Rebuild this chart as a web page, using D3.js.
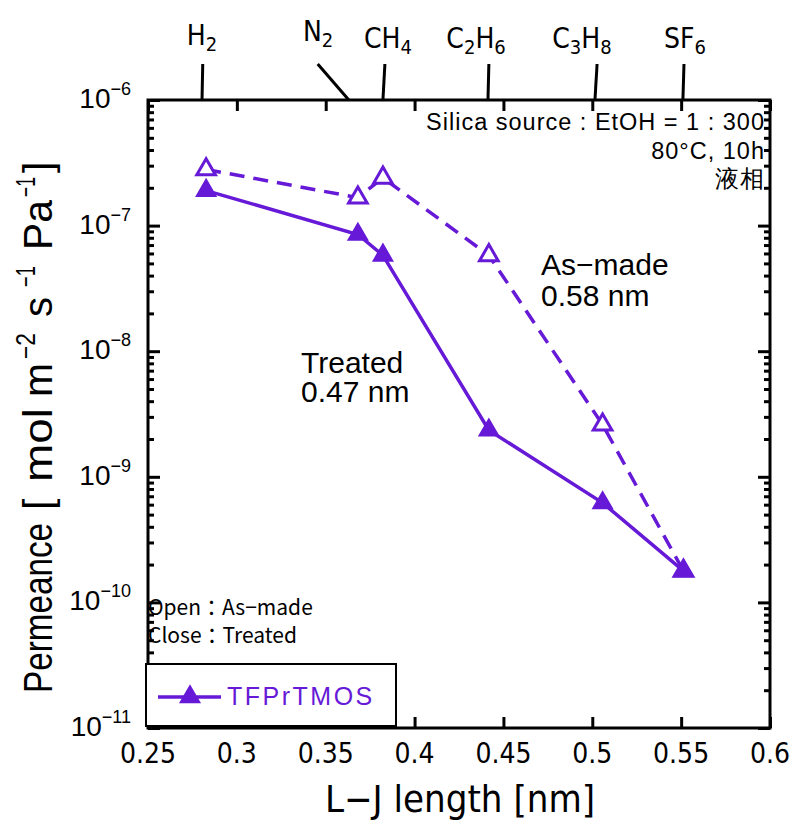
<!DOCTYPE html>
<html>
<head>
<meta charset="utf-8">
<title>Permeance vs L-J length</title>
<script src="https://d3js.org/d3.v7.min.js"></script>
<style>
  body { margin: 0; background: #fff; }
  svg text { fill: #000; }
  .narrow { font-family: "Liberation Sans Narrow", "DejaVu Sans Condensed", sans-serif; }
  .arial { font-family: "Liberation Sans", Arial, sans-serif; }
  .jp { font-family: "Noto Sans CJK JP", sans-serif; }
</style>
</head>
<body>
<div id="chart"></div>
<script>
// gases and their L-J length [nm]
var gases = ["H2", "N2", "CH4", "C2H6", "C3H8", "SF6"];
var ljLength = [0.2827, 0.3681, 0.3822, 0.4418, 0.5058, 0.5513];

// permeance [mol m-2 s-1 Pa-1]
var asMade  = [2.8e-7, 1.67e-7, 2.4e-7, 5.8e-8, 2.6e-9, 1.78e-10];
var treated = [1.9e-7, 8.5e-8, 5.8e-8, 2.35e-9, 6.2e-10, 1.78e-10];

// gas labels on the top axis (text, subscript, text, subscript)
var gasParts = [["H","2"], ["N","2"], ["CH","4"], ["C","2","H","6"], ["C","3","H","8"], ["SF","6"]];
var gasTickAt  = [0.2804, 0.363, 0.3822, 0.4413, 0.5015, 0.551];
var gasLineTop = [0.2808, 0.3455, 0.3833, 0.4418, 0.5027, 0.5516];
var gasLabelAt = [0.2804, 0.3457, 0.385, 0.4346, 0.4942, 0.5522];

var xTicks = [0.25, 0.3, 0.35, 0.4, 0.45, 0.5, 0.55, 0.6];
var yDecades = [1e-11, 1e-10, 1e-9, 1e-8, 1e-7, 1e-6];

var w = 792, h = 820;
var mLeft = 148, mRight = 770, mTop = 100, mBottom = 728;
var purple = "#6619d6";

var svg = d3.select("#chart").append("svg")
  .attr("width", w).attr("height", h);

var x = d3.scaleLinear().domain([0.25, 0.6]).range([mLeft, mRight]);
var y = d3.scaleLog().domain([1e-11, 1e-6]).range([mBottom, mTop]);

function plain(g){
  g.select(".domain").remove();
  g.selectAll("line").attr("stroke", "#000").attr("stroke-width", 3);
}

//bottom + top axis ticks (inside)
svg.append("g").attr("transform", "translate(0," + mBottom + ")")
  .call(d3.axisBottom(x).tickValues(xTicks).tickSize(-11).tickFormat(""))
  .call(plain);
svg.append("g").attr("transform", "translate(0," + mTop + ")")
  .call(d3.axisTop(x).tickValues(xTicks).tickSize(-11).tickFormat(""))
  .call(plain);

// x tick labels
svg.selectAll(".xlab").data(xTicks).enter().append("text")
  .attr("class", "narrow")
  .attr("x", function(d){ return x(d); })
  .attr("y", 763)
  .attr("text-anchor", "middle")
  .style("font-size", "28px")
  .text(function(d){ return d; });

// y ticks, major and minor, left and right
var minor = y.ticks().filter(function(d){ return yDecades.indexOf(d) < 0; });
[["axisLeft", mLeft], ["axisRight", mRight]].forEach(function(a){
  svg.append("g").attr("transform", "translate(" + a[1] + ",0)")
    .call(d3[a[0]](y).tickValues(yDecades).tickSize(-12).tickFormat(""))
    .call(plain);
  svg.append("g").attr("transform", "translate(" + a[1] + ",0)")
    .call(d3[a[0]](y).tickValues(minor).tickSize(-6).tickFormat(""))
    .call(plain);
});

// y tick labels 10^n
var ylab = svg.selectAll(".ylab").data(yDecades).enter().append("text")
  .attr("class", "arial")
  .attr("x", 131)
  .attr("y", function(d){ return y(d) + 8; })
  .attr("text-anchor", "end")
  .style("font-size", "28px");
ylab.append("tspan").text("10");
ylab.append("tspan").attr("dy", -13).style("font-size", "18px")
  .text(function(d){ return "\u2212" + Math.round(-Math.log10(d)); });

// frame
svg.append("rect")
  .attr("x", mLeft).attr("y", mTop)
  .attr("width", mRight - mLeft).attr("height", mBottom - mTop)
  .attr("fill", "none").attr("stroke", "#000").attr("stroke-width", 3);

// gas marker lines + labels
gases.forEach(function(g, i){
  svg.append("line")
    .attr("x1", x(gasLineTop[i])).attr("y1", 64)
    .attr("x2", x(gasTickAt[i])).attr("y2", mTop)
    .attr("stroke", "#000").attr("stroke-width", 3);
  var t = svg.append("text").attr("class", "narrow")
    .attr("x", x(gasLabelAt[i]))
    .attr("y", i == 1 ? 41 : (i == 0 ? 45 : 48))
    .attr("text-anchor", "middle")
    .style("font-size", "28px");
  gasParts[i].forEach(function(p, k){
    var s = t.append("tspan").text(p);
    if (k % 2 == 1) s.attr("dy", 6).style("font-size", "20px");
    else if (k > 0) s.attr("dy", -6);
  });
});

// axis titles
svg.append("text").attr("class", "narrow")
  .attr("x", 460).attr("y", 812)
  .attr("text-anchor", "middle")
  .style("font-size", "38px")
  .text("L\u2212J length [nm]");

// y title, pieces placed along the rotated baseline (distance up from y=693, length, superscript?)
var yTitle = [["Permeance", 0, 170, 0], ["[", 183, 0, 0], ["mol", 211, 74, 0], ["m", 296, 34, 0],
              ["\u22122", 334, 26, 1], ["s", 376, 20, 0], ["\u22121", 406, 21, 1],
              ["Pa", 443, 50, 0], ["\u22121", 496, 20, 1], ["]", 520, 0, 0]];
yTitle.forEach(function(p){
  var t = svg.append("text").attr("class", "arial")
    .attr("transform", "translate(" + (p[3] ? 35 : 52) + "," + (693 - p[1]) + ") rotate(-90)")
    .style("font-size", p[3] ? "27px" : "41px")
    .text(p[0]);
  if (p[2]) t.attr("textLength", p[2]).attr("lengthAdjust", "spacingAndGlyphs");
});

// lines
var line = d3.line()
  .x(function(d, i){ return x(ljLength[i]); })
  .y(function(d){ return y(d); });

svg.append("path").datum(asMade)
  .attr("d", line).attr("fill", "none")
  .attr("stroke", purple).attr("stroke-width", 3.5)
  .attr("stroke-dasharray", "15,9");
svg.append("path").datum(treated)
  .attr("d", line).attr("fill", "none")
  .attr("stroke", purple).attr("stroke-width", 3.5);

var tri = d3.symbol().type(d3.symbolTriangle).size(150);

svg.selectAll(".open").data(asMade).enter().append("path")
  .attr("d", tri)
  .attr("transform", function(d, i){ return "translate(" + x(ljLength[i]) + "," + y(d) + ")"; })
  .attr("fill", "#fff").attr("stroke", purple).attr("stroke-width", 3);
svg.selectAll(".filled").data(treated).enter().append("path")
  .attr("d", tri)
  .attr("transform", function(d, i){ return "translate(" + x(ljLength[i]) + "," + y(d) + ")"; })
  .attr("fill", purple).attr("stroke", purple).attr("stroke-width", 2);

// annotations
var notes = [["Silica source : EtOH = 1 : 300", 130], ["80\u00b0C, 10h", 159], ["\u6db2\u76f8", 187]];
notes.forEach(function(n){
  svg.append("text").attr("class", "arial")
    .attr("x", 765).attr("y", n[1])
    .attr("text-anchor", "end")
    .style("font-size", "23.5px")
    .style("letter-spacing", "1px")
    .text(n[0]);
});

svg.append("text").attr("class", "arial").attr("x", 541).attr("y", 275)
  .style("font-size", "30px").text("As\u2212made");
svg.append("text").attr("class", "arial").attr("x", 541).attr("y", 306)
  .style("font-size", "30px").text("0.58 nm");
svg.append("text").attr("class", "arial").attr("x", 301).attr("y", 373)
  .style("font-size", "30px").text("Treated");
svg.append("text").attr("class", "arial").attr("x", 301).attr("y", 402)
  .style("font-size", "30px").text("0.47 nm");

svg.append("text").attr("class", "jp").attr("x", 148).attr("y", 615)
  .style("font-size", "21px").text("Open\uff1aAs\u2212made");
svg.append("text").attr("class", "jp").attr("x", 148).attr("y", 643)
  .style("font-size", "21px").text("Close\uff1aTreated");

// legend
svg.append("rect")
  .attr("x", 146).attr("y", 664).attr("width", 250).attr("height", 62)
  .attr("fill", "#fff").attr("stroke", "#000").attr("stroke-width", 2);
svg.append("line")
  .attr("x1", 158).attr("x2", 221).attr("y1", 697).attr("y2", 697)
  .attr("stroke", purple).attr("stroke-width", 3.5);
svg.append("path").attr("d", tri)
  .attr("transform", "translate(190,697)")
  .attr("fill", purple).attr("stroke", purple).attr("stroke-width", 2);
svg.append("text").attr("class", "arial")
  .attr("x", 227).attr("y", 705)
  .style("font-size", "25px").style("fill", purple)
  .style("letter-spacing", "2.5px")
  .text("TFPrTMOS");
</script>
</body>
</html>
